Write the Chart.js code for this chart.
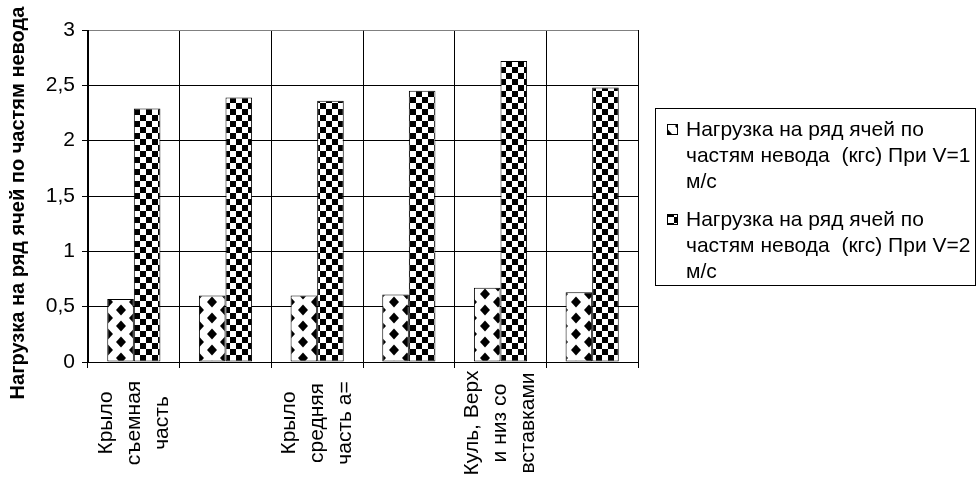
<!DOCTYPE html>
<html>
<head>
<meta charset="utf-8">
<script src="https://cdn.jsdelivr.net/npm/chart.js@4/dist/chart.umd.min.js"></script>
<style>
  html, body { margin: 0; padding: 0; background: #fff; }
  #wrap { position: relative; width: 978px; height: 481px; }
</style>
</head>
<body>
<div id="wrap"><canvas id="c"></canvas></div>
<script>
// ---- data ----
const categories = [
  ["Крыло", "съемная", "часть"],
  [""],
  ["Крыло", "средняя", "часть а="],
  [""],
  ["Куль, Верх", "и низ со", "вставками"],
  [""]
];
const seriesV1 = [0.57, 0.60, 0.60, 0.61, 0.67, 0.63];
const seriesV2 = [2.29, 2.39, 2.36, 2.45, 2.72, 2.48];
const seriesNames = [
  ["Нагрузка на ряд ячей по", "частям невода  (кгс) При V=1", "м/с"],
  ["Нагрузка на ряд ячей по", "частям невода  (кгс) При V=2", "м/с"]
];
const yTickValues = [0, 0.5, 1, 1.5, 2, 2.5, 3];
const yTickLabels = ["0", "0,5", "1", "1,5", "2", "2,5", "3"];
const yTitle = "Нагрузка на ряд ячей по частям невода";

// ---- patterns ----
function makeDiamondPattern(ctx) {
  const w = 26, h = 16;
  const c = document.createElement('canvas');
  c.width = w; c.height = h;
  const g = c.getContext('2d');
  g.fillStyle = '#fff'; g.fillRect(0, 0, w, h);
  g.fillStyle = '#000';
  const dia = (cx, cy) => {
    g.beginPath();
    g.moveTo(cx, cy - 5.5); g.lineTo(cx + 5, cy); g.lineTo(cx, cy + 5.5); g.lineTo(cx - 5, cy);
    g.closePath(); g.fill();
  };
  for (const dy of [-h, 0, h]) {
    dia(13, 4 + dy);
    dia(0, 12 + dy); dia(w, 12 + dy);
  }
  const p = ctx.createPattern(c, 'repeat');
  if (p.setTransform) p.setTransform(new DOMMatrix().translate(4, 2));
  return p;
}
function makeCheckerPattern(ctx) {
  const s = 6;
  const c = document.createElement('canvas');
  c.width = 2 * s; c.height = 2 * s;
  const g = c.getContext('2d');
  g.fillStyle = '#fff'; g.fillRect(0, 0, 2 * s, 2 * s);
  g.fillStyle = '#000';
  g.fillRect(0, 0, s, s); g.fillRect(s, s, s, s);
  const p = ctx.createPattern(c, 'repeat');
  if (p.setTransform) p.setTransform(new DOMMatrix().translate(2, 1));
  return p;
}

const FONT = "'Liberation Sans', Arial, sans-serif";
const canvas = document.getElementById('c');
const ctx0 = canvas.getContext('2d');
const pat1 = makeDiamondPattern(ctx0);
const pat2 = makeCheckerPattern(ctx0);
const patterns = [pat1, pat2];

// custom x labels (centered, rotated), y title, legend
const drawExtras = {
  id: 'drawExtras',
  afterDraw(chart) {
    const ctx = chart.ctx;
    const xs = chart.scales.x;
    ctx.save();
    ctx.fillStyle = '#000';
    ctx.font = '21px ' + FONT;
    ctx.textAlign = 'center';
    ctx.textBaseline = 'middle';
    categories.forEach((lines, i) => {
      const cx = xs.getPixelForValue(i);
      const n = lines.length;
      lines.forEach((ln, j) => {
        if (!ln) return;
        const lx = cx + (j - (n - 1) / 2) * 28;
        ctx.save();
        ctx.translate(lx, 423);
        ctx.rotate(-Math.PI / 2);
        ctx.fillText(ln, 0, 0);
        ctx.restore();
      });
    });
    // y title
    ctx.font = 'bold 20px ' + FONT;
    ctx.save();
    ctx.translate(18, 203);
    ctx.rotate(-Math.PI / 2);
    ctx.fillText(yTitle, 0, 0);
    ctx.restore();
    ctx.restore();

    // legend
    ctx.save();
    ctx.strokeStyle = '#000';
    ctx.lineWidth = 1;
    ctx.strokeRect(655.5, 108.5, 320, 177);
    ctx.font = '21px ' + FONT;
    ctx.textAlign = 'left';
    ctx.textBaseline = 'middle';
    seriesNames.forEach((lines, k) => {
      const y0 = 130 + k * 90;
      ctx.fillStyle = patterns[k];
      ctx.fillRect(667, y0 - 6, 11, 11);
      ctx.strokeStyle = '#000';
      ctx.strokeRect(667.5, y0 - 5.5, 10, 10);
      ctx.fillStyle = '#000';
      lines.forEach((ln, j) => ctx.fillText(ln, 686, y0 + j * 26));
    });
    ctx.restore();
  }
};

new Chart(canvas, {
  type: 'bar',
  data: {
    labels: categories.map(l => l.join(' ')),
    datasets: [
      { label: seriesNames[0].join(' '), data: seriesV1, backgroundColor: pat1,
        borderColor: '#000', borderWidth: 1, borderSkipped: false,
        barPercentage: 1.0, categoryPercentage: 0.58 },
      { label: seriesNames[1].join(' '), data: seriesV2, backgroundColor: pat2,
        borderColor: '#000', borderWidth: 1, borderSkipped: false,
        barPercentage: 1.0, categoryPercentage: 0.58 }
    ]
  },
  options: {
    responsive: true,
    maintainAspectRatio: false,
    animation: false,
    devicePixelRatio: 1,
    layout: { padding: { top: 30, right: 340, bottom: 0, left: 0 } },
    plugins: { legend: { display: false }, tooltip: { enabled: false } },
    scales: {
      x: {
        grid: {
          offset: true,
          color: c => (c.index === categories.length ? '#808080' : '#000'),
          tickColor: '#000',
          tickLength: 6,
          lineWidth: 1
        },
        border: { color: '#000' },
        ticks: { display: false },
        afterFit: s => { s.height = 119; }
      },
      y: {
        min: 0, max: 3,
        afterBuildTicks: s => { s.ticks = yTickValues.map(v => ({ value: v })); },
        ticks: {
          color: '#000',
          font: { family: FONT, size: 21 },
          padding: 7,
          callback: (v, i) => yTickLabels[i]
        },
        grid: {
          color: c => (c.tick && c.tick.value === 3 ? '#808080' : '#000'),
          tickColor: '#000',
          tickLength: 6
        },
        border: { color: '#000' },
        title: { display: false },
        afterFit: s => { s.width = 88; }
      }
    }
  },
  plugins: [drawExtras]
});
</script>
</body>
</html>
